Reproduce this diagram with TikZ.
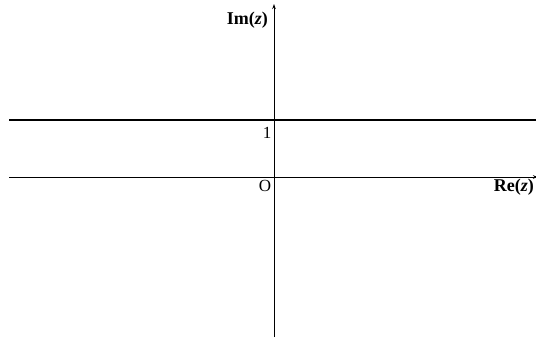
\documentclass[tikz,border=0pt]{standalone}
\usepackage{fontspec}
\setmainfont{Liberation Serif}
\usetikzlibrary{arrows.meta}
\begin{document}
\begin{tikzpicture}[x=1pt,y=-1pt,
  axis/.style={line width=0.9pt,-{Stealth[length=5pt,width=3.5pt]}},
  lbl/.style={font=\fontsize{18}{20}\selectfont\bfseries,inner sep=0pt},
  num/.style={font=\fontsize{17}{19}\selectfont,inner sep=0pt}]
\useasboundingbox (0,0) rectangle (536,338);
\coordinate (xl) at (9,177);
\coordinate (xr) at (538,177);
\coordinate (yb) at (274,337);
\coordinate (yt) at (274,4);
\coordinate (ll) at (9,120);
\coordinate (lr) at (536,120);
\draw[axis] (xl) -- (xr);
\draw[axis] (yb) -- (yt);
\draw[line width=2pt] (ll) -- (lr);
\node[lbl,anchor=east] (im) at (268,20) {Im(\textit{z})};
\node[lbl,anchor=east] (re) at (534,187) {Re(\textit{z})};
\node[num] (one) at (267,133) {1};
\node[num] (o) at (265,186) {O};
\end{tikzpicture}
\end{document}
